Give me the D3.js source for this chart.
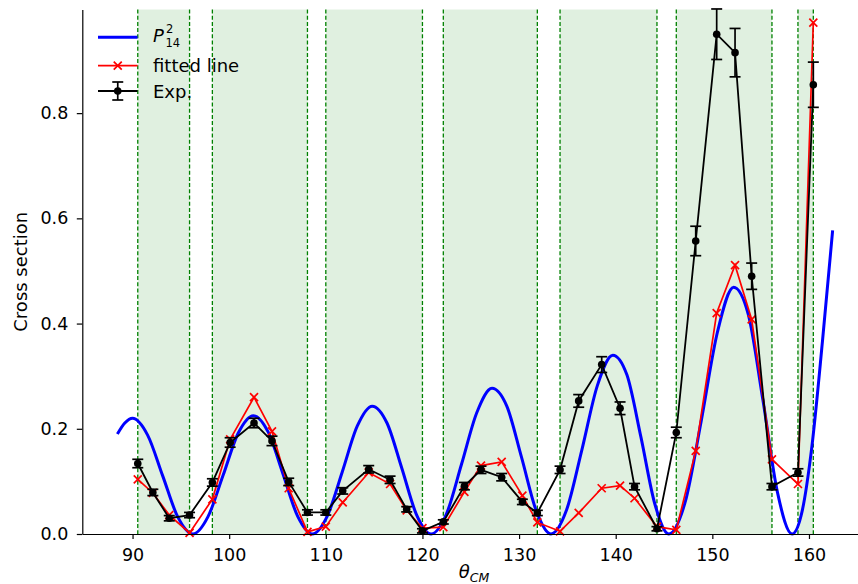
<!DOCTYPE html>
<html><head><meta charset="utf-8">
<script src="https://cdn.jsdelivr.net/npm/d3@7"></script>
<style>
body{margin:0;background:#fff}
svg{display:block}
text{font-family:"DejaVu Sans",sans-serif;fill:#000}
</style>
</head><body>
<svg id="chart" width="858" height="584"></svg>
<script>
// ---- data ----
const angles = [90.54, 92.1, 93.8, 95.9, 98.26, 100.1, 102.57, 104.43, 106.16, 108.1,
  110.0, 111.75, 114.44, 116.65, 118.37, 120.0, 122.16, 124.34, 126.06, 128.2,
  130.34, 131.89, 134.24, 136.17, 138.55, 140.45, 141.95, 144.27, 146.27, 148.28,
  150.45, 152.35, 154.07, 156.17, 158.86, 160.45];
const expValues = [0.134, 0.079, 0.030, 0.036, 0.098, 0.174, 0.211, 0.177, 0.099, 0.041,
  0.041, 0.082, 0.123, 0.103, 0.047, 0.006, 0.023, 0.091, 0.122, 0.108,
  0.061, 0.040, 0.122, 0.253, 0.322, 0.239, 0.090, 0.010, 0.193, 0.557,
  0.950, 0.915, 0.490, 0.090, 0.117, 0.854];
const expErrors = [0.008, 0.006, 0.005, 0.005, 0.007, 0.009, 0.009, 0.009, 0.007, 0.005,
  0.005, 0.006, 0.007, 0.007, 0.005, 0.004, 0.004, 0.007, 0.007, 0.007,
  0.005, 0.005, 0.007, 0.012, 0.015, 0.012, 0.006, 0.004, 0.010, 0.028,
  0.048, 0.046, 0.025, 0.006, 0.007, 0.043];
const fitValues = [0.104, 0.078, 0.036, 0.002, 0.066, 0.180, 0.260, 0.195, 0.087, 0.004,
  0.014, 0.060, 0.117, 0.095, 0.045, 0.011, 0.013, 0.080, 0.130, 0.137,
  0.073, 0.022, 0.005, 0.040, 0.087, 0.092, 0.068, 0.014, 0.008, 0.158,
  0.420, 0.511, 0.408, 0.142, 0.095, 0.972];
const curveAngles = [88.43, 89.2, 90.0, 91.56, 93.13, 94.69, 96.25, 97.81, 99.38, 100.94,
  102.5, 104.03, 105.55, 107.08, 108.6, 110.15, 111.7, 113.25, 114.8, 116.33,
  117.85, 119.38, 120.9, 122.48, 124.05, 125.63, 127.2, 128.73, 130.25, 131.78,
  133.3, 134.9, 136.5, 138.1, 139.7, 141.15, 142.6, 144.05, 145.5, 147.18,
  148.85, 150.53, 152.2, 153.71, 155.23, 156.74, 158.25, 159.3, 160.3, 161.4, 162.45];
const curveValues = [0.190, 0.211, 0.220, 0.188, 0.110, 0.032, 0, 0.033, 0.112, 0.192,
  0.225, 0.194, 0.115, 0.034, 0, 0.034, 0.118, 0.205, 0.243, 0.211,
  0.126, 0.037, 0, 0.038, 0.133, 0.231, 0.277, 0.243, 0.146, 0.044,
  0, 0.045, 0.160, 0.282, 0.340, 0.303, 0.185, 0.057, 0, 0.060,
  0.215, 0.384, 0.469, 0.418, 0.255, 0.079, 0, 0.044, 0.166, 0.367, 0.577];
const bandStarts = [90.54, 98.26, 110.0, 122.16, 134.24, 146.27, 158.86];
const bandEnds = [95.9, 108.1, 120.0, 131.89, 144.27, 156.17, 160.45];
const xTicks = [90, 100, 110, 120, 130, 140, 150, 160];
const yTicks = [0.0, 0.2, 0.4, 0.6, 0.8];
const legendLabels = ["fitted line", "Exp."];

// ---- layout ----
const svg = d3.select("#chart");
const x = d3.scaleLinear().domain([84.8, 166.15]).range([82.3, 868.4]);
const y = d3.scaleLinear().domain([0, 0.997]).range([534, 9.5]);
const FS = 17.5, LFS = 18;

// shaded bands
const bands = bandStarts.map((s, i) => ({s, e: bandEnds[i]}));
svg.append("g").selectAll("rect").data(bands).join("rect")
  .attr("x", d => x(d.s)).attr("y", y.range()[1])
  .attr("width", d => x(d.e) - x(d.s)).attr("height", y.range()[0] - y.range()[1])
  .attr("fill", "rgba(0,128,0,0.12)");
const vlines = bandStarts.concat(bandEnds);
svg.append("g").selectAll("line").data(vlines).join("line")
  .attr("x1", d => x(d)).attr("x2", d => x(d))
  .attr("y1", y.range()[1]).attr("y2", y.range()[0])
  .attr("stroke", "#008000").attr("stroke-width", 1.3).attr("stroke-dasharray", "4,2.2");

// blue curve
const curvePts = curveAngles.map((a, i) => [a, curveValues[i]]);
svg.append("path").datum(curvePts)
  .attr("d", d3.line().x(d => x(d[0])).y(d => y(d[1])).curve(d3.curveMonotoneX))
  .attr("fill", "none").attr("stroke", "#0000ff").attr("stroke-width", 3);

// fitted line
const fitPts = angles.map((a, i) => [a, fitValues[i]]);
svg.append("path").datum(fitPts)
  .attr("d", d3.line().x(d => x(d[0])).y(d => y(d[1])))
  .attr("fill", "none").attr("stroke", "#ff0000").attr("stroke-width", 1.7);
const xm = 4;
function crossPath(cx, cy) {
  return `M${cx - xm},${cy - xm}L${cx + xm},${cy + xm}M${cx - xm},${cy + xm}L${cx + xm},${cy - xm}`;
}
svg.append("g").selectAll("path").data(fitPts).join("path")
  .attr("d", d => crossPath(x(d[0]), y(d[1])))
  .attr("stroke", "#ff0000").attr("stroke-width", 1.7).attr("fill", "none");

// experimental
const expPts = angles.map((a, i) => ({a, v: expValues[i], e: expErrors[i]}));
svg.append("path").datum(expPts)
  .attr("d", d3.line().x(d => x(d.a)).y(d => y(d.v)))
  .attr("fill", "none").attr("stroke", "#000").attr("stroke-width", 1.8);
const eb = svg.append("g").attr("stroke", "#000").attr("stroke-width", 1.7);
const cap = 5.5;
expPts.forEach(d => {
  const cx = x(d.a), y0 = y(d.v - d.e), y1 = y(d.v + d.e);
  eb.append("line").attr("x1", cx).attr("x2", cx).attr("y1", y0).attr("y2", y1);
  eb.append("line").attr("x1", cx - cap).attr("x2", cx + cap).attr("y1", y0).attr("y2", y0);
  eb.append("line").attr("x1", cx - cap).attr("x2", cx + cap).attr("y1", y1).attr("y2", y1);
});
svg.append("g").selectAll("circle").data(expPts).join("circle")
  .attr("cx", d => x(d.a)).attr("cy", d => y(d.v)).attr("r", 3.8).attr("fill", "#000");

// axes
const xAxis = svg.append("g").attr("transform", `translate(0,${y(0)})`)
  .call(d3.axisBottom(x).tickValues(xTicks).tickFormat(d3.format("d")).tickSize(5).tickSizeOuter(0).tickPadding(10));
const yAxis = svg.append("g").attr("transform", `translate(${x.range()[0]},0)`)
  .call(d3.axisLeft(y).tickValues(yTicks).tickFormat(d3.format(".1f")).tickSize(5.5).tickSizeOuter(0).tickPadding(8.5));
[xAxis, yAxis].forEach(g => {
  g.selectAll("text").attr("font-size", FS).attr("font-family", "DejaVu Sans").attr("fill", "#000");
  g.selectAll("line").attr("stroke", "#000").attr("stroke-width", 1.2);
  g.select(".domain").attr("stroke", "#000").attr("stroke-width", 1.2);
});

// axis labels
svg.append("text").attr("transform", `translate(27,${(y.range()[0] + y.range()[1]) / 2}) rotate(-90)`)
  .attr("text-anchor", "middle").attr("font-size", LFS).text("Cross section");
const xl = svg.append("text").attr("x", 474).attr("y", 578).attr("text-anchor", "middle")
  .attr("font-size", LFS).attr("font-style", "italic");
xl.append("tspan").text("θ");
xl.append("tspan").attr("font-size", 12.5).attr("dy", 4).text("CM");

// legend
const lg = svg.append("g");
const lx0 = 98, lx1 = 137.5, ltx = 153;
const rows = [37.3, 65.7, 91];
lg.append("line").attr("x1", lx0).attr("x2", lx1).attr("y1", rows[0]).attr("y2", rows[0])
  .attr("stroke", "#0000ff").attr("stroke-width", 3);
lg.append("text").attr("x", ltx).attr("y", rows[0] + 5).attr("font-size", LFS)
  .attr("font-style", "italic").text("P");
lg.append("text").attr("x", ltx + 13).attr("y", rows[0] - 4.6).attr("font-size", 11.5).text("2");
lg.append("text").attr("x", ltx + 12.5).attr("y", rows[0] + 9.6).attr("font-size", 11.5).text("14");

lg.append("line").attr("x1", lx0).attr("x2", lx1).attr("y1", rows[1]).attr("y2", rows[1])
  .attr("stroke", "#ff0000").attr("stroke-width", 1.7);
lg.append("path").attr("d", crossPath((lx0 + lx1) / 2, rows[1]))
  .attr("stroke", "#ff0000").attr("stroke-width", 1.7);
lg.append("text").attr("x", ltx).attr("y", rows[1] + 6.5).attr("font-size", LFS).text(legendLabels[0]);

const mx = (lx0 + lx1) / 2;
lg.append("line").attr("x1", lx0).attr("x2", lx1).attr("y1", rows[2]).attr("y2", rows[2])
  .attr("stroke", "#000").attr("stroke-width", 1.8);
lg.append("line").attr("x1", mx).attr("x2", mx).attr("y1", rows[2] - 9).attr("y2", rows[2] + 9)
  .attr("stroke", "#000").attr("stroke-width", 1.7);
[rows[2] - 9, rows[2] + 9].forEach(yy => lg.append("line").attr("x1", mx - cap).attr("x2", mx + cap)
  .attr("y1", yy).attr("y2", yy).attr("stroke", "#000").attr("stroke-width", 1.7));
lg.append("circle").attr("cx", mx).attr("cy", rows[2]).attr("r", 3.8).attr("fill", "#000");
lg.append("text").attr("x", ltx).attr("y", rows[2] + 6.5).attr("font-size", LFS).text(legendLabels[1]);
</script>
</body></html>
